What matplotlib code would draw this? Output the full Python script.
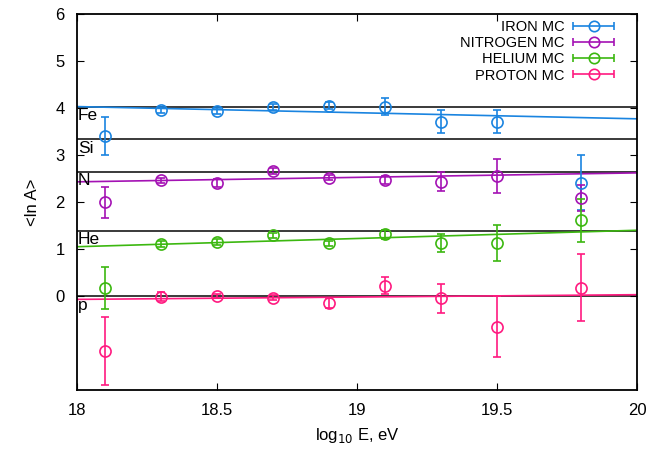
import numpy as np
import matplotlib
matplotlib.use('Agg')
import matplotlib.pyplot as plt
from matplotlib.legend_handler import HandlerErrorbar
from matplotlib.container import ErrorbarContainer

plt.rcParams['font.family'] = ['Liberation Sans', 'DejaVu Sans']

# energy bins, log10 E
x = [18.1, 18.3, 18.5, 18.7, 18.9, 19.1, 19.3, 19.5, 19.8]

iron_y = [3.40, 3.96, 3.94, 4.02, 4.05, 4.03, 3.71, 3.71, 2.41]
iron_e = [0.41, 0.07, 0.07, 0.07, 0.08, 0.18, 0.25, 0.25, 0.58]

nitro_y = [2.00, 2.46, 2.40, 2.66, 2.52, 2.47, 2.43, 2.55, 2.09]
nitro_e = [0.33, 0.06, 0.08, 0.07, 0.06, 0.08, 0.20, 0.36, 0.28]

helium_y = [0.17, 1.11, 1.15, 1.29, 1.12, 1.31, 1.13, 1.13, 1.61]
helium_e = [0.44, 0.06, 0.06, 0.06, 0.06, 0.09, 0.20, 0.38, 0.45]

proton_y = [-1.17, -0.01, 0.00, -0.03, -0.15, 0.22, -0.05, -0.65, 0.18]
proton_e = [0.72, 0.10, 0.05, 0.05, 0.10, 0.18, 0.31, 0.65, 0.72]

# linear fits, values at log10 E = 18 and 20
fit_x = [18.0, 20.0]
iron_fit = [4.03, 3.77]
nitro_fit = [2.43, 2.62]
helium_fit = [1.05, 1.40]
proton_fit = [-0.07, 0.03]

# reference <ln A> of pure nuclei
nuclei = ['Fe', 'Si', 'N', 'He', 'p']
nuclei_lnA = [np.log(56), np.log(28), np.log(14), np.log(4), 0.0]

series = [
    ('IRON MC', iron_y, iron_e, iron_fit, '#1a84e0'),
    ('NITROGEN MC', nitro_y, nitro_e, nitro_fit, '#a412b4'),
    ('HELIUM MC', helium_y, helium_e, helium_fit, '#3cb810'),
    ('PROTON MC', proton_y, proton_e, proton_fit, '#ff1a80'),
]

fig = plt.figure(figsize=(6.5, 4.5), dpi=100)
ax = fig.add_axes([0.1185, 0.133, 0.8615, 0.836])

for name, v in zip(nuclei, nuclei_lnA):
    ax.axhline(v, color='#3a3a3a', lw=1.4, zorder=1)
    ax.text(18.003, v - 0.03, name, ha='left', va='top', fontsize=12.5, zorder=5)

handles = []
for label, y, e, fit, c in series:
    ax.plot(fit_x, fit, color=c, lw=1.2, zorder=2)
    ax.errorbar(x, y, yerr=e, fmt='o', mfc='none', mec=c, color=c,
                ms=8, mew=1.2, elinewidth=1.2, capsize=3, capthick=1.2, zorder=3)
    # proxy with horizontal error bar for gnuplot-style legend
    h = ax.errorbar([np.nan], [np.nan], xerr=[0.1], fmt='o', mfc='none', mec=c,
                    color=c, ms=7.5, mew=1.2, elinewidth=1.2, capsize=3, capthick=1.2,
                    label=label)
    handles.append(h)

ax.set_xlim(18, 20)
ax.set_ylim(-2, 6)
ax.set_xticks([18, 18.5, 19, 19.5, 20])
ax.set_xticklabels(['18', '18.5', '19', '19.5', '20'])
ax.set_yticks([0, 1, 2, 3, 4, 5, 6])
ax.tick_params(direction='in', top=True, right=True, labelsize=12, length=5, pad=9)
for s in ax.spines.values():
    s.set_linewidth(1.3)

ax.set_xlabel('log$_{10}$ E, eV', fontsize=12, labelpad=6)
ax.set_ylabel('<ln A>', fontsize=12, labelpad=11)

leg = ax.legend(handles=handles, loc='upper right', bbox_to_anchor=(0.962, 0.984),
                frameon=False, fontsize=10.5,
                markerfirst=False, handlelength=3.0, handletextpad=0.5,
                labelspacing=0.15, borderaxespad=0.0, borderpad=0.0,
                handler_map={ErrorbarContainer: HandlerErrorbar(xerr_size=1.4)})
for t in leg.get_texts():
    t.set_ha('right')

fig.savefig('out.png', dpi=100)
